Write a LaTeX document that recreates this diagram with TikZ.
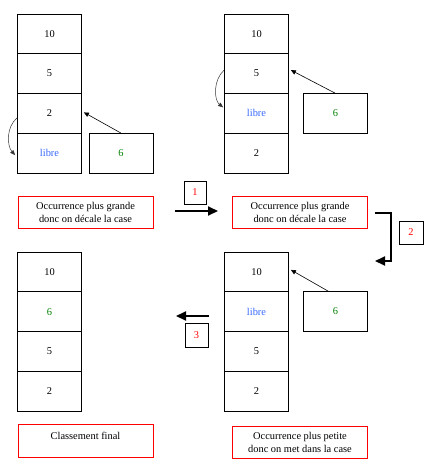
\documentclass[tikz,border=0pt]{standalone}
\usepackage{fontspec}
\setmainfont{Liberation Serif}
\usetikzlibrary{arrows.meta}
\definecolor{librecol}{RGB}{51,102,255}
\definecolor{sixcol}{RGB}{0,128,0}
\definecolor{redcol}{RGB}{255,0,0}
\begin{document}
\begin{tikzpicture}[x=1pt,y=-1pt,
  every node/.style={font=\fontsize{10.4}{13}\selectfont},
  cell/.style={draw,line width=0.8pt,minimum width=64pt,minimum height=39.75pt,inner sep=0pt},
  valbox/.style={draw,line width=0.8pt,minimum width=64pt,minimum height=39.5pt,inner sep=0pt},
  redbox/.style={draw=redcol,line width=0.8pt,minimum width=135pt,minimum height=32pt,inner sep=0pt,align=center},
  numbox/.style={draw,line width=0.6pt,minimum width=22pt,minimum height=23pt,inner sep=0pt,text=redcol},
  thin arrow/.style={line width=0.6pt,-{Triangle[length=5pt,width=4.5pt]}},
  curve arrow/.style={line width=0.5pt,draw=black!80,-{Triangle[length=5pt,width=4pt]}},
  thick arrow/.style={line width=2pt,-{Triangle[length=10pt,width=9pt]}},
  libre/.style={text=librecol},
  six/.style={text=sixcol}]
\useasboundingbox (0,0) rectangle (444,466);
% Panel 1
\node[cell] (a1) at (49.5,33.875) {10};
\node[cell] (a2) at (49.5,73.625) {5};
\node[cell] (a3) at (49.5,113.375) {2};
\node[cell,libre] (a4) at (49.5,153.125) {libre};
\node[valbox] (av) at (121,153.25) {\textcolor{sixcol}{6}};
\draw[thin arrow] (av.north) -- ([xshift=2pt,yshift=1pt]a3.east);
\draw[curve arrow] ([yshift=-4.5pt]a3.west) .. controls (6,127) and (7,146) .. ([xshift=-2pt,yshift=-2pt]a4.west);
\node[redbox] (ar) at (85.5,212) {Occurrence plus grande\\donc on décale la case};
% Panel 2
\node[cell] (b1) at (256.5,33.875) {10};
\node[cell] (b2) at (256.5,73.625) {5};
\node[cell,libre] (b3) at (256.5,113.375) {libre};
\node[cell] (b4) at (256.5,153.125) {2};
\node[valbox] (bv) at (335.5,113.5) {\textcolor{sixcol}{6}};
\draw[thin arrow] (bv.north) -- ([xshift=2pt,yshift=3.5pt]b2.east);
\draw[curve arrow] ([yshift=3.5pt]b2.west) .. controls (213,80) and (214,100) .. ([xshift=-1pt,yshift=6pt]b3.west);
\node[redbox] (br) at (300,212) {Occurrence plus grande\\donc on décale la case};
% Panel 3
\node[cell] (c1) at (256.5,271.875) {10};
\node[cell,libre] (c2) at (256.5,311.625) {libre};
\node[cell] (c3) at (256.5,351.375) {5};
\node[cell] (c4) at (256.5,391.125) {2};
\node[valbox] (cv) at (335.5,311.5) {\textcolor{sixcol}{6}};
\draw[thin arrow] ([xshift=-7pt]cv.north) -- ([xshift=2pt,yshift=2pt]c1.east);
\node[redbox] (cr) at (300,442.5) {Occurrence plus petite\\donc on met dans la case};
% Panel 4
\node[cell] (d1) at (49.5,271.875) {10};
\node[cell,six] (d2) at (49.5,311.625) {6};
\node[cell] (d3) at (49.5,351.375) {5};
\node[cell] (d4) at (49.5,391.125) {2};
\node[redbox,minimum height=33pt,text height=11pt,text depth=13pt] (dr) at (85.5,440.5) {Classement final};
% Step arrows
\node[numbox] (n1) at (195,192.5) {1};
\coordinate (s1a) at (175,211);
\coordinate (s1b) at (218,211);
\draw[thick arrow] (s1a) -- (s1b);
\node[numbox,minimum width=24pt] (n2) at (411,232.5) {2};
\coordinate (s2a) at (375,213);
\coordinate (s2c) at (391,261);
\coordinate (s2b) at (375,261);
\draw[thick arrow] (s2a) -| (s2c) -- (s2b);
\node[numbox,minimum width=23pt,minimum height=24pt] (n3) at (196.5,335) {3};
\coordinate (s3a) at (209,316);
\coordinate (s3b) at (176,316);
\draw[thick arrow] (s3a) -- (s3b);
\end{tikzpicture}
\end{document}
